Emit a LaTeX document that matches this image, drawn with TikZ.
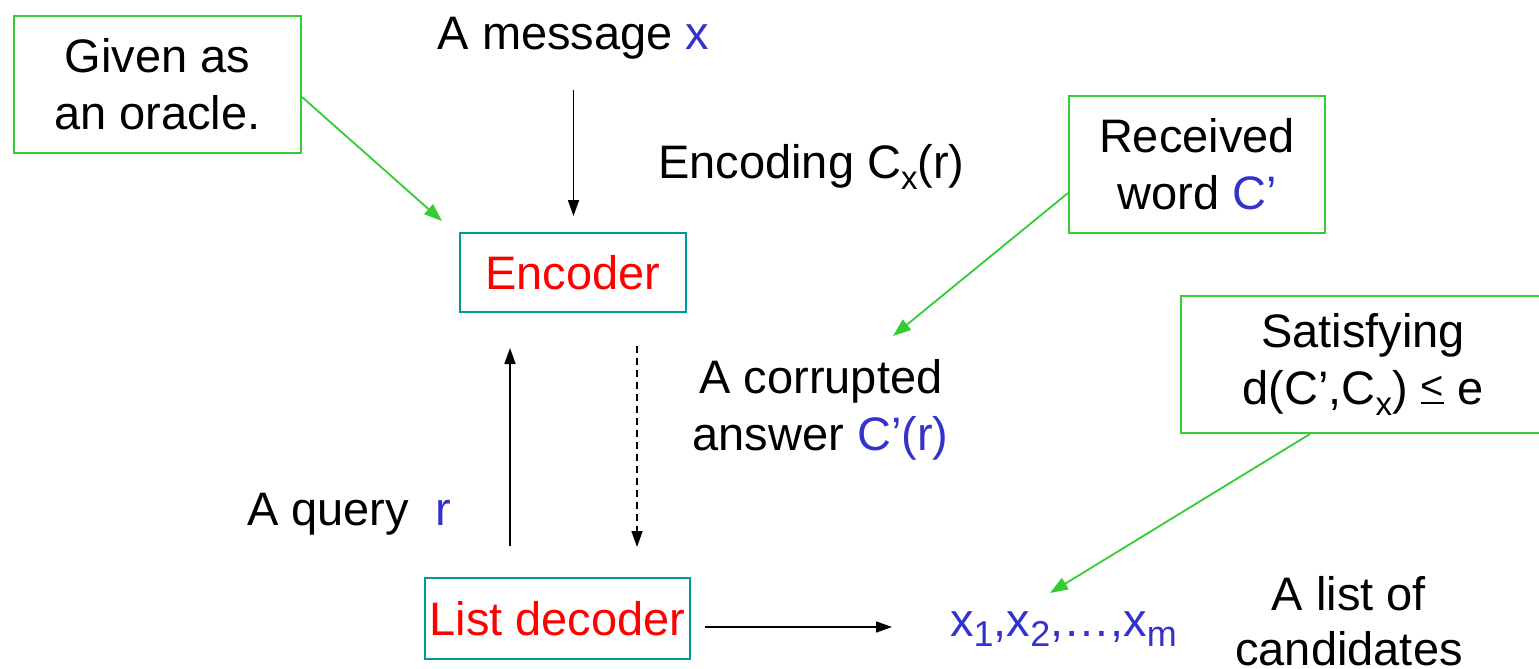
\documentclass[tikz,border=0pt]{standalone}
\usepackage{fontspec}
\usepackage{graphicx}
\setmainfont{Liberation Sans}
\usetikzlibrary{arrows.meta,calc}
\definecolor{grn}{HTML}{33CC33}
\definecolor{tealb}{HTML}{009999}
\definecolor{blu}{HTML}{3333CC}
\definecolor{rd}{HTML}{FF0000}
\newcommand{\mysub}[1]{\raisebox{-0.24em}{\fontsize{33}{33}\selectfont #1}}
\newcommand{\lsub}[1]{\raisebox{-0.22em}{\fontsize{36}{36}\selectfont #1}}
\newcommand{\myle}{\ooalign{\raisebox{0.1em}{\scalebox{0.85}{<}}\cr\rule{0.5em}{0.045em}\cr}}
\begin{document}
\begin{tikzpicture}[x=1pt,y=-1pt,
  txt/.style={inner sep=0pt, font=\fontsize{47}{57}\selectfont},
  gbox/.style={draw=grn, line width=2pt, inner sep=0pt, align=center, font=\fontsize{47}{57}\selectfont},
  tbox/.style={draw=tealb, line width=2pt, inner sep=0pt, text=rd, font=\fontsize{47}{57}\selectfont},
  arr/.style={line width=1.6pt, -{Triangle[length=16pt,width=11pt]}},
  garr/.style={draw=grn, line width=1.8pt, -{Triangle[length=18pt,width=13pt]}, grn}]
\useasboundingbox (0,0) rectangle (1539,669);
% boxes
\node[gbox, minimum width=287pt, minimum height=137pt] (oracle) at (157.5,84.5) {Given as\\an oracle.};
\node[gbox, minimum width=256pt, minimum height=137pt] (received) at (1197,164.5) {Received\\word \textcolor{blu}{C’}};
\node[gbox, minimum width=364pt, minimum height=137pt] (satisfy) at (1363,364.5) {Satisfying\\d(C’,C\mysub{x}) \myle{} e};
\node[tbox, minimum width=226pt, minimum height=79pt] (encoder) at (573,272.5) {Encoder};
\node[tbox, minimum width=265pt, minimum height=81pt] (listdec) at (557.5,618.5) {List decoder};
% free texts
\node[txt, anchor=base] (msg) at (573.5,50) {A message \textcolor{blu}{x}};
\node[txt, anchor=base west] (enclab) at (658,178) {Encoding C\mysub{x}(r)};
\node[txt, anchor=base] (corr1) at (821,393) {A corrupted};
\node[txt, anchor=base] (corr2) at (820.5,450) {answer \textcolor{blu}{C’(r)}};
\node[txt, anchor=base west] (query) at (247,525) {A query\ \ \textcolor{blu}{r}};
\node[txt, anchor=base west, text=blu] (list) at (950,636) {x\lsub{1},x\lsub{2},…,x\lsub{m}};
\node[txt, anchor=base] (cand1) at (1349,610) {A list of};
\node[txt, anchor=base] (cand2) at (1349,665) {candidates};
% coordinates
\coordinate (upx) at (510,0);
\coordinate (dnx) at (637,0);
\coordinate (g2end) at (893,336);
% black arrows
\draw[arr, shorten <=40pt, shorten >=16pt] (msg.base) -- (msg.base |- encoder.north);
\draw[arr, shorten <=31pt, shorten >=35pt] (listdec.north -| upx) -- (encoder.south -| upx);
\draw[arr, dashed, dash pattern=on 7pt off 5pt, shorten <=33pt, shorten >=30pt] (encoder.south -| dnx) -- (listdec.north -| dnx);
\draw[arr, shorten <=14pt, shorten >=58pt] ([yshift=-8.5pt]listdec.east) -- ([yshift=-8.5pt]listdec.east -| list.west);
% green arrows
\draw[garr] ([yshift=-12.5pt]oracle.east) -- ([xshift=-17pt,yshift=11pt]encoder.north west);
\draw[garr] ([yshift=-28.5pt]received.west) -- (g2end);
\draw[garr] ([xshift=-53pt]satisfy.south) -- ([xshift=100pt,yshift=43pt]list.base west);
\end{tikzpicture}
\end{document}
